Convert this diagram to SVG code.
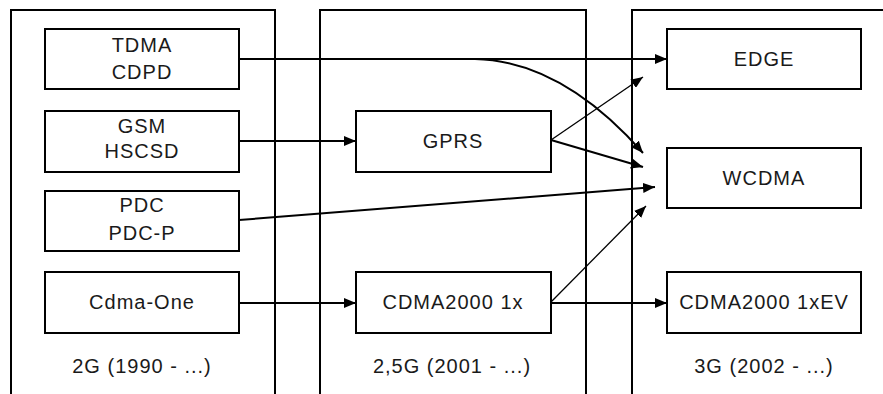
<svg xmlns="http://www.w3.org/2000/svg" width="883" height="394" viewBox="0 0 883 394">
<style>
.col{fill:none;stroke:#000;stroke-width:2}
.box{fill:#fff;stroke:#000;stroke-width:2}
.t{font-family:"Liberation Sans",Arial,sans-serif;font-size:20px;letter-spacing:1px;fill:#1a1a1a;text-anchor:middle}
.c{fill:none;stroke:#000;stroke-width:2}
.c1{fill:none;stroke:#000;stroke-width:1.3}
</style>
<defs>
<marker id="ah" markerUnits="userSpaceOnUse" markerWidth="12" markerHeight="10" refX="12" refY="5" orient="auto">
<path d="M0,0 L12,5 L0,10 Z" fill="#000"/>
</marker>
</defs>
<rect width="883" height="394" fill="#fff"/>
<g id="columns">
<path class="col" d="M11,396 V10 H275 V396"/>
<path class="col" d="M320,396 V10 H586 V396"/>
<path class="col" d="M632,396 V10 H885"/>
<text class="t" x="142" y="373">2G (1990 - ...)</text>
<text class="t" x="452" y="373">2,5G (2001 - ...)</text>
<text class="t" x="764" y="373">3G (2002 - ...)</text>
</g>
<g id="connectors">
<path class="c" d="M239,59 H667" marker-end="url(#ah)"/>
<path class="c" d="M475,59 Q562,61 643,153" marker-end="url(#ah)"/>
<path class="c" d="M239,141 H356" marker-end="url(#ah)"/>
<path class="c1" d="M551,140 L643,77" marker-end="url(#ah)"/>
<path class="c" d="M551,140 L643,167" marker-end="url(#ah)"/>
<path class="c" d="M239,220 L655,187" marker-end="url(#ah)"/>
<path class="c" d="M239,303 H356" marker-end="url(#ah)"/>
<path class="c" d="M551,303 H667" marker-end="url(#ah)"/>
<path class="c1" d="M551,302 L646,206" marker-end="url(#ah)"/>
</g>
<g id="tdma"><rect class="box" x="45" y="29" width="194" height="60"/><text class="t" x="142" y="52">TDMA</text><text class="t" x="142" y="79">CDPD</text></g>
<g id="gsm"><rect class="box" x="45" y="111" width="194" height="61"/><text class="t" x="142" y="133">GSM</text><text class="t" x="142" y="158">HSCSD</text></g>
<g id="pdc"><rect class="box" x="45" y="191" width="194" height="60"/><text class="t" x="142" y="212">PDC</text><text class="t" x="142" y="240">PDC-P</text></g>
<g id="cdmaone"><rect class="box" x="45" y="272" width="194" height="61"/><text class="t" x="142" y="309">Cdma-One</text></g>
<g id="gprs"><rect class="box" x="356" y="111" width="195" height="61"/><text class="t" x="453" y="148">GPRS</text></g>
<g id="cdma1x"><rect class="box" x="356" y="272" width="195" height="61"/><text class="t" x="453" y="309">CDMA2000 1x</text></g>
<g id="edge"><rect class="box" x="667" y="29" width="194" height="60"/><text class="t" x="764" y="66">EDGE</text></g>
<g id="wcdma"><rect class="box" x="667" y="148" width="194" height="60"/><text class="t" x="764" y="185">WCDMA</text></g>
<g id="cdma1xev"><rect class="box" x="667" y="272" width="194" height="61"/><text class="t" x="764" y="309">CDMA2000 1xEV</text></g>
</svg>
